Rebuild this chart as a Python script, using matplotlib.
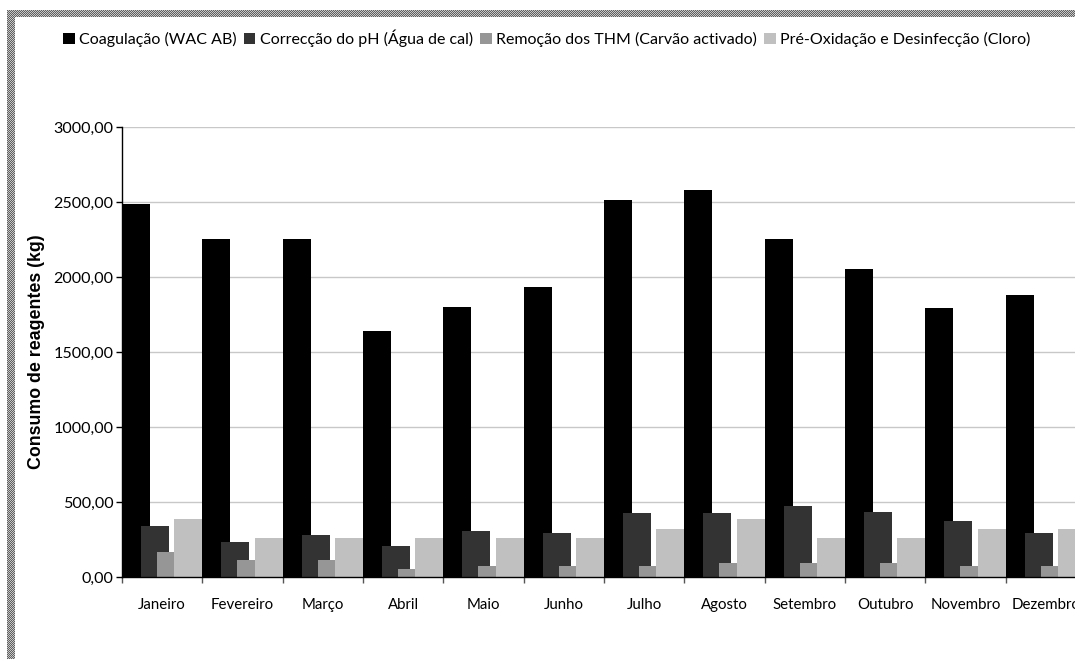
import matplotlib
matplotlib.use("Agg")
import matplotlib.pyplot as plt
import numpy as np
from matplotlib.patches import Patch

meses = ['Janeiro', 'Fevereiro', 'Março', 'Abril', 'Maio', 'Junho',
         'Julho', 'Agosto', 'Setembro', 'Outubro', 'Novembro', 'Dezembro']

coagulacao = [2490, 2255, 2255, 1642, 1802, 1935, 2515, 2582, 2255, 2055, 1795, 1882]
correccao_ph = [342, 235, 282, 209, 309, 295, 429, 429, 475, 435, 375, 295]
remocao_thm = [164, 115, 115, 55, 75, 75, 75, 95, 95, 95, 75, 75]
pre_oxidacao = [389, 262, 262, 262, 262, 262, 322, 389, 262, 262, 322, 322]

series = ['Coagulação (WAC AB)', 'Correcção do pH (Água de cal)',
          'Remoção dos THM (Carvão activado)', 'Pré-Oxidação e Desinfecção (Cloro)']
cores = ['#000000', '#333333', '#969696', '#c0c0c0']
y_ticks = [0, 500, 1000, 1500, 2000, 2500, 3000]

fig = plt.figure(figsize=(10.75, 6.59), dpi=100)
# plot area runs past the right edge of the figure, as in the original sheet
ax = fig.add_axes([122 / 1075, 82 / 659, 964 / 1075, 450 / 659])

x = np.arange(len(meses))
offsets = [0.0, 0.235, 0.435, 0.65]
largura = 0.35
for valores, cor, off, nome in zip([coagulacao, correccao_ph, remocao_thm, pre_oxidacao],
                                    cores, offsets, series):
    ax.bar(x + off, valores, width=largura, align='edge', color=cor,
           linewidth=0, label=nome, zorder=2)

ax.set_xlim(0, len(meses))
ax.set_ylim(0, 3000)
ax.set_yticks(y_ticks)
ax.set_yticklabels([f'{v},00' for v in y_ticks], fontfamily='Lato', fontsize=11.6)
ax.set_xticks(x, minor=False)
ax.set_xticks(x + 0.5, minor=True)
ax.set_xticklabels([])
ax.set_xticklabels(meses, minor=True, fontfamily='Lato', fontsize=10.8)
ax.tick_params(axis='x', which='minor', length=0, pad=15)
ax.tick_params(axis='x', which='major', length=4, width=1, color='#555555')
ax.tick_params(axis='y', length=4, width=1, pad=2)

ax.grid(axis='y', color='#c8c8c8', linewidth=1, zorder=0)
ax.set_axisbelow(True)
for s in ['top', 'right']:
    ax.spines[s].set_visible(False)
ax.spines['left'].set_linewidth(1)
ax.spines['bottom'].set_linewidth(1)

ax.set_ylabel('Consumo de reagentes (kg)', fontfamily='Liberation Sans',
              fontweight='bold', fontsize=12.8)
ax.yaxis.set_label_coords(-0.080, 0.5)

handles = [Patch(facecolor=c, edgecolor='none') for c in cores]
fig.legend(handles, series, loc='center left', bbox_to_anchor=(49 / 1075, 1 - 38 / 659),
           ncol=4, frameon=False, prop={'family': 'Lato', 'size': 11.5},
           handlelength=0.7, handleheight=0.7, handletextpad=0.3, columnspacing=0.45)

# dithered grey frame on the left and top edges
def textura(h, w):
    yy, xx = np.indices((h, w))
    v = np.where((yy + xx) % 2 == 0, 0.38, 0.78)
    return np.dstack([v, v, v])

fig.figimage(textura(649, 8), xo=7, yo=0, origin='upper', zorder=5)
fig.figimage(textura(7, 1068), xo=7, yo=642, origin='upper', zorder=5)

fig.savefig('out.png', dpi=100)
